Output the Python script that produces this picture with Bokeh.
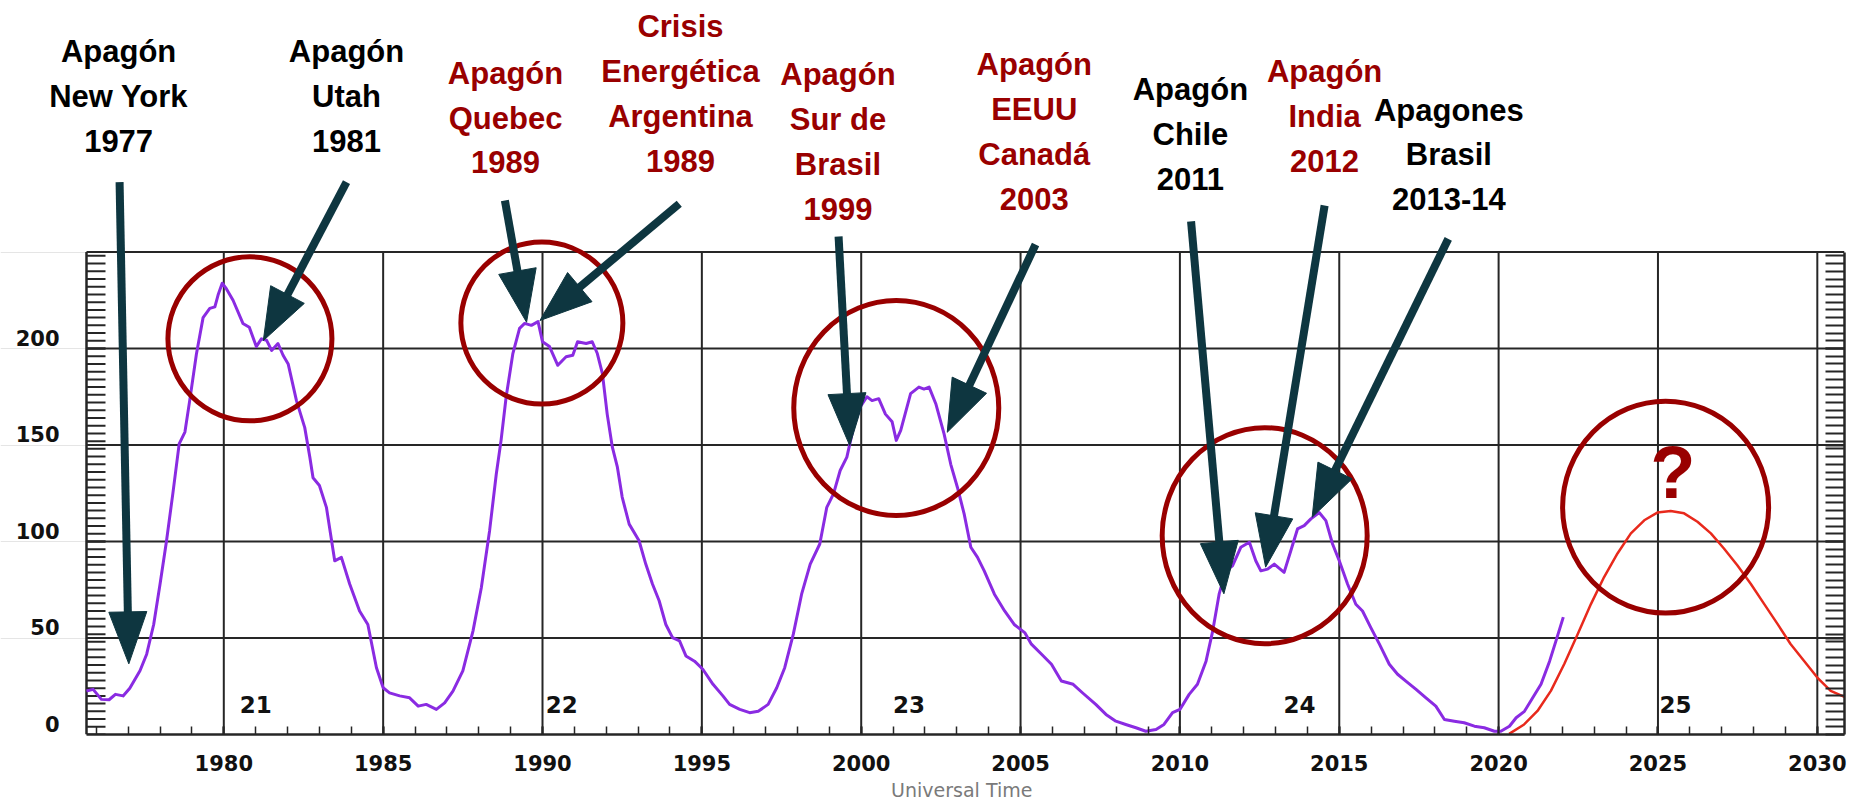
import math
from bokeh.plotting import figure
from bokeh.models import (Range1d, FixedTicker, LinearAxis, CustomJSTickFormatter,
                          ColumnDataSource, LabelSet)
from bokeh.core.properties import value
from bokeh.embed import file_html
from bokeh.resources import INLINE

# ---------------- data ----------------
obs_year = [1975.69, 1975.90, 1976.16, 1976.40, 1976.60, 1976.84, 1977.05, 1977.37, 1977.58, 1977.80,
            1978.00, 1978.20, 1978.40, 1978.60, 1978.78, 1978.93, 1979.14, 1979.35, 1979.56, 1979.72,
            1979.82, 1979.95, 1980.08, 1980.29, 1980.60, 1980.80, 1981.02, 1981.18, 1981.34, 1981.50,
            1981.70, 1981.86, 1982.02, 1982.28, 1982.54, 1982.70, 1982.80, 1983.00, 1983.22, 1983.48,
            1983.69, 1983.95, 1984.26, 1984.52, 1984.79, 1985.00, 1985.20, 1985.52, 1985.83, 1986.10,
            1986.35, 1986.67, 1986.93, 1987.19, 1987.50, 1987.82, 1988.08, 1988.34, 1988.55, 1988.70,
            1988.86, 1989.07, 1989.28, 1989.44, 1989.65, 1989.86, 1990.00, 1990.22, 1990.48, 1990.74,
            1990.95, 1991.10, 1991.37, 1991.56, 1991.72, 1991.88, 1992.03, 1992.19, 1992.35, 1992.50,
            1992.72, 1993.03, 1993.24, 1993.45, 1993.66, 1993.87, 1994.08, 1994.30, 1994.50, 1994.77,
            1995.03, 1995.35, 1995.66, 1995.87, 1996.19, 1996.50, 1996.77, 1997.08, 1997.35, 1997.60,
            1997.87, 1998.13, 1998.40, 1998.70, 1998.92, 1999.13, 1999.34, 1999.55, 1999.76, 1999.97,
            2000.18, 2000.34, 2000.55, 2000.76, 2000.97, 2001.10, 2001.24, 2001.55, 2001.81, 2001.97,
            2002.13, 2002.34, 2002.60, 2002.81, 2003.02, 2003.23, 2003.44, 2003.65, 2003.86, 2004.18,
            2004.50, 2004.80, 2005.13, 2005.34, 2005.66, 2005.97, 2006.28, 2006.65, 2006.95, 2007.36,
            2007.68, 2007.99, 2008.30, 2008.62, 2008.93, 2009.25, 2009.50, 2009.77, 2010.00, 2010.29,
            2010.55, 2010.82, 2011.03, 2011.23, 2011.44, 2011.65, 2011.91, 2012.18, 2012.38, 2012.54,
            2012.75, 2012.96, 2013.27, 2013.48, 2013.69, 2013.90, 2014.11, 2014.37, 2014.58, 2014.79,
            2015.00, 2015.26, 2015.52, 2015.73, 2015.99, 2016.26, 2016.57, 2016.83, 2017.09, 2017.41,
            2017.72, 2018.03, 2018.30, 2018.61, 2018.92, 2019.24, 2019.55, 2019.87, 2020.07, 2020.34,
            2020.55, 2020.81, 2021.07, 2021.33, 2021.60, 2021.80, 2022.03]
obs_ssn = [22.5, 23.4, 18.2, 18.0, 20.8, 20.0, 24.0, 33.0, 41.6, 57.0,
           78.0, 100.0, 124.7, 150.6, 156.7, 173.0, 197.0, 216.0, 220.8, 221.6,
           227.7, 233.8, 231.0, 225.0, 213.0, 211.0, 201.0, 205.0, 204.3, 199.0,
           202.6, 196.5, 192.0, 173.0, 159.0, 143.7, 133.0, 129.0, 117.7, 90.0,
           91.8, 78.0, 64.0, 57.0, 34.6, 24.2, 21.6, 20.0, 19.0, 14.7,
           15.6, 13.0, 16.4, 22.5, 33.0, 53.7, 76.0, 105.6, 135.0, 152.4,
           175.0, 197.4, 210.4, 213.0, 212.0, 213.9, 203.5, 201.0, 191.3, 195.7,
           196.5, 203.5, 202.6, 203.5, 197.4, 187.0, 166.0, 149.0, 138.5, 123.0,
           109.0, 100.4, 88.3, 78.0, 69.3, 57.0, 50.2, 48.5, 40.7, 38.0,
           33.8, 26.0, 20.0, 15.6, 13.0, 11.3, 12.0, 15.6, 24.2, 34.6,
           52.0, 72.7, 88.3, 98.7, 117.7, 124.7, 136.8, 143.7, 159.3, 169.7,
           175.0, 173.0, 174.0, 166.0, 162.0, 152.4, 157.6, 176.6, 180.0, 179.0,
           180.0, 171.4, 155.8, 140.0, 128.0, 114.3, 97.0, 91.8, 84.8, 72.7,
           64.0, 57.0, 52.8, 46.8, 41.6, 36.4, 27.7, 26.0, 21.5, 15.6,
           10.4, 6.9, 5.2, 3.5, 1.7, 2.6, 5.2, 11.3, 13.0, 20.8,
           26.0, 38.0, 53.7, 72.7, 84.8, 87.4, 97.0, 99.6, 90.0, 84.8,
           85.7, 88.3, 84.0, 95.2, 106.5, 108.2, 111.7, 115.0, 110.8, 98.7,
           90.0, 78.0, 67.5, 64.0, 55.4, 46.8, 36.4, 31.2, 27.7, 23.4,
           19.0, 14.7, 7.8, 6.9, 6.1, 4.3, 3.5, 1.7, 1.7, 4.3,
           8.7, 12.0, 19.0, 26.0, 38.0, 48.5, 60.8]

pred_year = [2020.33, 2020.80, 2021.22, 2021.64, 2022.06, 2022.48, 2022.90, 2023.31, 2023.73, 2024.15,
             2024.57, 2024.98, 2025.40, 2025.82, 2026.24, 2026.66, 2027.07, 2027.49, 2027.91, 2028.33,
             2028.75, 2029.16, 2029.58, 2030.00, 2030.42, 2030.85]
pred_ssn = [0.3, 5.2, 12.2, 22.6, 36.5, 52.0, 67.7, 81.6, 93.8, 104.2,
            111.0, 115.0, 115.8, 114.6, 110.2, 104.2, 96.4, 87.7, 78.1, 67.7,
            57.3, 46.9, 38.2, 29.5, 22.6, 19.5]

cycle_labels = ["21", "22", "23", "24", "25"]
cycle_year = [1980.5, 1990.1, 2001.0, 2013.25, 2025.05]
cycle_level = 15.5

x_major = [1980, 1985, 1990, 1995, 2000, 2005, 2010, 2015, 2020, 2025, 2030]
x_minor = list(range(1976, 2031))
y_major = [0, 50, 100, 150, 200]
y_minor = list(range(4, 250, 4))
y_top = 250
x_title = "Universal Time"

# annotations (data coordinates: year, sunspot value)
event_lines = [["Apagón", "New York", "1977"],
               ["Apagón", "Utah", "1981"],
               ["Apagón", "Quebec", "1989"],
               ["Crisis", "Energética", "Argentina", "1989"],
               ["Apagón", "Sur de", "Brasil", "1999"],
               ["Apagón", "EEUU", "Canadá", "2003"],
               ["Apagón", "Chile", "2011"],
               ["Apagón", "India", "2012"],
               ["Apagones", "Brasil", "2013-14"]]
event_red = [False, False, True, True, True, True, False, True, False]
event_x = [1976.70, 1983.85, 1988.84, 1994.33, 1999.27, 2005.43, 2010.33, 2014.54, 2018.44]
event_y = [348.3, 348.3, 337.2, 361.3, 336.3, 341.5, 328.5, 338.0, 318.1]

arrow_tail_x = [1976.73, 1983.85, 1988.82, 1994.29, 1999.29, 2005.47, 2010.35, 2014.54, 2018.42]
arrow_tail_y = [286.2, 286.2, 276.7, 275.0, 258.0, 253.9, 265.9, 274.1, 256.8]
arrow_tip_x = [1977.02, 1981.24, 1989.50, 1989.92, 1999.64, 2002.70, 2011.38, 2012.69, 2014.15]
arrow_tip_y = [36.6, 204.1, 213.6, 214.5, 149.7, 156.6, 72.9, 86.7, 112.6]

ring_x = [1980.82, 1989.98, 2001.10, 2012.66, 2025.24]
ring_y = [205.0, 213.2, 169.2, 103.0, 117.8]
ring_w = [164, 162, 205, 205, 206]
ring_h = [164, 162, 215, 216, 212]

question_x, question_y = 2025.47, 135.9

# ---------------- layout ----------------
XPX, YPX = 31.87, 1.93            # pixels per year / per sunspot unit
X_START, X_END = 1975.692, 2030.853   # chart box
BOX_LEFT = 86                      # px from canvas left to chart box
FRAME_W, FRAME_H = 1844, 734
RIGHT, BOTTOM = 6, 74
X_LO = X_START - BOX_LEFT / XPX
Y_END = FRAME_H / YPX

DARKRED = "#990000"
ARROW = "#0E3640"
GRID = "#262626"
TICK_FONT = "DejaVu Sans"

p = figure(width=FRAME_W + RIGHT, height=FRAME_H + BOTTOM,
           x_range=Range1d(X_LO, X_END), y_range=Range1d(0, Y_END),
           y_axis_location=None,
           output_backend="svg", toolbar_location=None,
           min_border_left=0, min_border_right=RIGHT, min_border_top=0,
           min_border_bottom=BOTTOM)
p.outline_line_color = None
p.xgrid.visible = False
p.background_fill_color = "white"
p.border_fill_color = "white"

# x axis (library axis, limited to the chart box)
xa = p.xaxis[0]
xa.bounds = (X_START, X_END)
xa.ticker = FixedTicker(ticks=x_major, minor_ticks=x_minor)
xa.major_tick_in = 8
xa.major_tick_out = 0
xa.minor_tick_in = 8
xa.minor_tick_out = 0
xa.axis_line_width = 2.5
xa.axis_line_color = GRID
xa.major_tick_line_color = GRID
xa.minor_tick_line_color = GRID
xa.major_tick_line_width = 2
xa.minor_tick_line_width = 1.5
xa.major_label_text_font = TICK_FONT
xa.major_label_text_font_style = "bold"
xa.major_label_text_font_size = "21px"
xa.major_label_text_color = "#111111"
xa.major_label_standoff = 20
# the title is centred on the chart box, which starts 86px right of the canvas edge
xa.axis_label = "\u00a0" * 13 + x_title
xa.axis_label_text_font = TICK_FONT
xa.axis_label_text_font_style = "normal"
xa.axis_label_text_font_size = "19px"
xa.axis_label_text_color = "#7a7a7a"
xa.axis_label_standoff = 5

# right y axis (library axis, ticks only)
ra = LinearAxis(bounds=(0, y_top), ticker=FixedTicker(ticks=y_major, minor_ticks=y_minor),
                formatter=CustomJSTickFormatter(code="return ''"),
                major_tick_in=19, major_tick_out=0, minor_tick_in=19, minor_tick_out=0,
                major_label_standoff=0, axis_line_width=2.5, axis_line_color=GRID,
                major_tick_line_color=GRID, minor_tick_line_color=GRID,
                major_tick_line_width=2, minor_tick_line_width=2,
                major_label_text_font_size="1px")
p.add_layout(ra, "right")

# left scale of the chart box: line, inner ticks and labels
p.segment(x0=[X_START], y0=[0], x1=[X_START], y1=[y_top], line_color=GRID, line_width=2.5)
all_y_ticks = y_major + y_minor
p.segment(x0=[X_START] * len(all_y_ticks), y0=all_y_ticks,
          x1=[X_START + 19 / XPX] * len(all_y_ticks), y1=all_y_ticks,
          line_color=GRID, line_width=2)
p.text(x=[X_START - 27 / XPX] * len(y_major), y=[v + 10.7 / YPX for v in y_major],
       text=[str(v) for v in y_major], text_font=value(TICK_FONT), text_font_style="bold",
       text_font_size="21px", text_color="#111111", text_align="right", text_baseline="middle")

# grid lines limited to the chart box
p.segment(x0=x_major, y0=[0] * len(x_major), x1=x_major, y1=[y_top] * len(x_major),
          line_color=GRID, line_width=2)
h_levels = y_major[1:] + [y_top]
p.segment(x0=[X_START] * len(h_levels), y0=h_levels, x1=[X_END] * len(h_levels), y1=h_levels,
          line_color=GRID, line_width=2)

# series
p.line(obs_year, obs_ssn, line_color="#8A2BE2", line_width=3, line_join="round")
p.line(pred_year, pred_ssn, line_color="#E8291C", line_width=2.5, line_join="round")

# cycle numbers
p.text(x=cycle_year, y=[cycle_level] * len(cycle_year), text=cycle_labels,
       text_font=value(TICK_FONT), text_font_style="bold", text_font_size="23px",
       text_color="#111111", text_align="left", text_baseline="middle")

# rings
p.ellipse(x=ring_x, y=ring_y, width=ring_w, height=ring_h,
          width_units="screen", height_units="screen",
          fill_color=None, line_color=DARKRED, line_width=5)

# arrows
HEAD_LEN, HEAD_HALF = 52, 19
sx0, sy0, sx1, sy1, hxs, hys = [], [], [], [], [], []
for tx, ty, hx, hy in zip(arrow_tail_x, arrow_tail_y, arrow_tip_x, arrow_tip_y):
    dx, dy = (hx - tx) * XPX, (hy - ty) * YPX
    L = math.hypot(dx, dy)
    ux, uy = dx / L, dy / L
    bx, by = hx - ux * HEAD_LEN / XPX, hy - uy * HEAD_LEN / YPX
    nx, ny = -uy, ux
    sx0.append(tx); sy0.append(ty)
    sx1.append(hx - ux * (HEAD_LEN - 4) / XPX); sy1.append(hy - uy * (HEAD_LEN - 4) / YPX)
    hxs.append([hx, bx + nx * HEAD_HALF / XPX, bx - nx * HEAD_HALF / XPX])
    hys.append([hy, by + ny * HEAD_HALF / YPX, by - ny * HEAD_HALF / YPX])
p.segment(x0=sx0, y0=sy0, x1=sx1, y1=sy1, line_color=ARROW, line_width=8)
p.patches(hxs, hys, fill_color=ARROW, line_color=ARROW, line_width=1)

# event labels
LINE_GAP = 44.8 / YPX
tx_, ty_, tt_, tc_ = [], [], [], []
for lines, red, x, y in zip(event_lines, event_red, event_x, event_y):
    for i, s in enumerate(lines):
        tx_.append(x); ty_.append(y - i * LINE_GAP); tt_.append(s)
        tc_.append(DARKRED if red else "#000000")
ev_src = ColumnDataSource(dict(x=tx_, y=ty_, text=tt_, color=tc_))
p.add_layout(LabelSet(x="x", y="y", text="text", source=ev_src, text_color="color",
                      text_font=value("Liberation Sans"), text_font_style="bold",
                      text_font_size="31px", text_align="center",
                      text_baseline="alphabetic"))

p.text(x=[question_x], y=[question_y], text=["?"], text_color=DARKRED,
       text_font=value("Liberation Sans"), text_font_style="bold", text_font_size="74px",
       text_align="center", text_baseline="middle")

open("out.html", "w").write(file_html(p, INLINE))
